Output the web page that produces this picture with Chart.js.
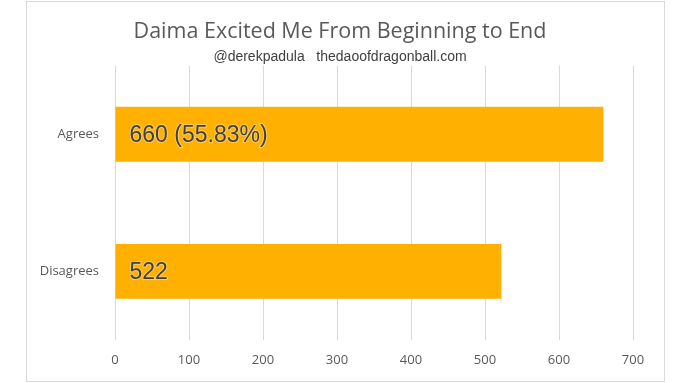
<!DOCTYPE html>
<html>
<head>
<meta charset="utf-8">
<script src="https://cdn.jsdelivr.net/npm/chart.js@4.4.0/dist/chart.umd.min.js"></script>
<style>
  html, body { margin: 0; padding: 0; background: #fff; }
  #wrap { position: absolute; left: 0; top: 0; width: 680px; height: 383px; }
  #frame { position: absolute; left: 26px; top: 1px; width: 637px; height: 379px; border: 1px solid #d9d9d9; pointer-events: none; }
</style>
</head>
<body>
<div id="wrap"><canvas id="chart"></canvas></div>
<div id="frame"></div>
<script>
var categories = ['Agrees', 'Disagrees'];
var votes = [660, 522];
var barLabels = ['660 (55.83%)', '522'];
var xTicks = [0, 100, 200, 300, 400, 500, 600, 700];

// writes the value text inside each bar, near its left end
var insideLabels = {
    id: 'insideLabels',
    afterDatasetsDraw: function(chart) {
        var ctx = chart.ctx;
        var meta = chart.getDatasetMeta(0);
        ctx.save();
        ctx.font = '23px "Liberation Sans", Arial, sans-serif';
        ctx.textAlign = 'left';
        ctx.textBaseline = 'middle';
        ctx.lineWidth = 2;
        ctx.strokeStyle = 'rgba(255,255,255,0.35)';
        ctx.fillStyle = '#404040';
        meta.data.forEach(function(bar, i) {
            var x = bar.base + 14;
            var y = bar.y + 1;
            ctx.strokeText(barLabels[i], x, y);
            ctx.fillText(barLabels[i], x, y);
        });
        ctx.restore();
    }
};

window.onload = function() {
    var ctx = document.getElementById('chart').getContext('2d');
    var config = {
        type: 'bar',
        data: {
            labels: categories,
            datasets: [{
                data: votes,
                backgroundColor: '#FFB000',
                borderWidth: 0,
                barPercentage: 0.4,
                categoryPercentage: 1
            }]
        },
        options: {
            indexAxis: 'y',
            responsive: true,
            maintainAspectRatio: false,
            animation: false,
            layout: { padding: 0 },
            plugins: {
                legend: { display: false },
                tooltip: { enabled: false },
                title: {
                    display: true,
                    text: 'Daima Excited Me From Beginning to End',
                    color: '#595959',
                    font: { family: '"Open Sans"', size: 21.5, weight: 'normal' },
                    padding: { top: 19, bottom: 4 }
                },
                subtitle: {
                    display: true,
                    text: '@derekpadula   thedaoofdragonball.com',
                    color: '#404040',
                    font: { family: '"Liberation Sans"', size: 14 },
                    padding: { top: 0, bottom: 0 }
                }
            },
            scales: {
                x: {
                    min: 0,
                    max: 700,
                    afterBuildTicks: function(axis) {
                        axis.ticks = xTicks.map(function(v) { return { value: v }; });
                    },
                    afterFit: function(axis) { axis.height = 43; },
                    grid: { color: '#d9d9d9', drawTicks: false },
                    border: { display: false },
                    ticks: {
                        color: '#595959',
                        padding: 12,
                        font: { family: '"Open Sans"', size: 13 }
                    }
                },
                y: {
                    afterFit: function(axis) { axis.width = 115; },
                    grid: { display: false, drawTicks: false },
                    border: { display: false },
                    ticks: {
                        color: '#595959',
                        padding: 16,
                        font: { family: '"Open Sans"', size: 13 }
                    }
                },
                // empty spacer on the right so the titles stay centred on the page
                spacer: {
                    type: 'linear',
                    position: 'right',
                    afterFit: function(axis) { axis.width = 47; },
                    grid: { display: false, drawTicks: false },
                    border: { display: false },
                    ticks: { display: false }
                }
            }
        },
        plugins: [insideLabels]
    };
    window.myBar = new Chart(ctx, config);
};
</script>
</body>
</html>
